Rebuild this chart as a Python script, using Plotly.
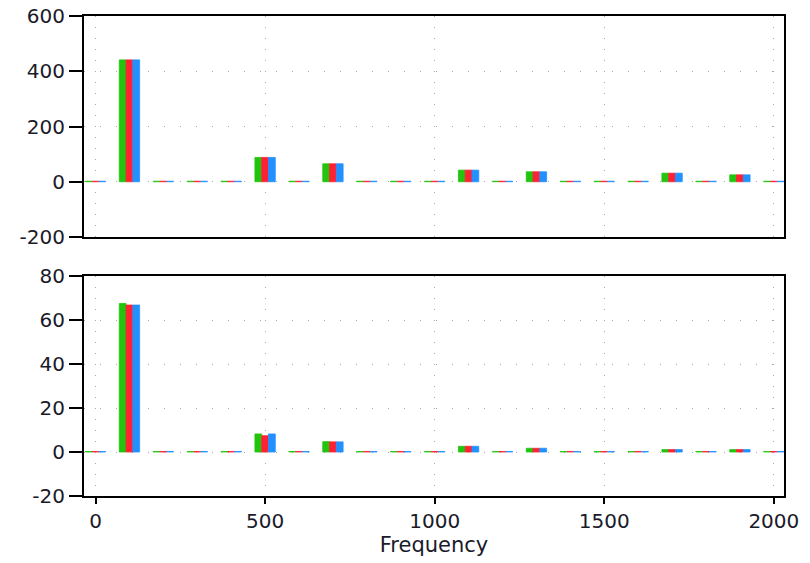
import plotly.graph_objects as go

freq = [0, 100, 200, 300, 400, 500, 600, 700, 800, 900, 1000,
        1100, 1200, 1300, 1400, 1500, 1600, 1700, 1800, 1900, 2000]

# Top panel (three channels)
top_green = [2, 441, 2, 2, 2, 88, 2, 65, 2, 2, 2, 42, 2, 36, 2, 2, 2, 31, 2, 25, 2]
top_red   = [2, 441, 2, 2, 2, 88, 2, 65, 2, 2, 2, 42, 2, 36, 2, 2, 2, 31, 2, 25, 2]
top_blue  = [2, 441, 2, 2, 2, 88, 2, 65, 2, 2, 2, 42, 2, 36, 2, 2, 2, 31, 2, 25, 2]

# Bottom panel (three channels)
bot_green = [0.25, 67.5, 0.25, 0.25, 0.25, 8.2, 0.25, 4.7, 0.25, 0.25, 0.25, 2.6, 0.25, 1.7, 0.25, 0.25, 0.25, 1.1, 0.25, 1.1, 0.25]
bot_red   = [0.25, 66.8, 0.25, 0.25, 0.25, 7.4, 0.25, 4.6, 0.25, 0.25, 0.25, 2.6, 0.25, 1.7, 0.25, 0.25, 0.25, 1.1, 0.25, 1.1, 0.25]
bot_blue  = [0.25, 66.8, 0.25, 0.25, 0.25, 8.2, 0.25, 4.6, 0.25, 0.25, 0.25, 2.6, 0.25, 1.7, 0.25, 0.25, 0.25, 1.1, 0.25, 1.1, 0.25]

x_ticks = [0, 500, 1000, 1500, 2000]
top_ticks = [-200, 0, 200, 400, 600]
bot_ticks = [-20, 0, 20, 40, 60, 80]

colors = ["#22c40e", "#ff2233", "#2290ff"]

fig = go.Figure()
for vals, c in zip([top_green, top_red, top_blue], colors):
    fig.add_trace(go.Bar(x=freq, y=vals, marker=dict(color=c, line=dict(color=c, width=0.8)),
                         xaxis="x", yaxis="y", showlegend=False))
for vals, c in zip([bot_green, bot_red, bot_blue], colors):
    fig.add_trace(go.Bar(x=freq, y=vals, marker=dict(color=c, line=dict(color=c, width=0.8)),
                         xaxis="x2", yaxis="y2", showlegend=False))

tickfont = dict(family="DejaVu Sans", size=20, color="#1a1a2a")
common_x = dict(range=[-34, 2030], tickvals=x_ticks, ticktext=[str(v) for v in x_ticks],
                showgrid=True, gridcolor="#a8a8a8", gridwidth=1, griddash="1px,10px",
                showline=True, linecolor="black", linewidth=2, mirror=True,
                zeroline=False, tickfont=tickfont, automargin=False,
                ticklabeloverflow="allow")
common_y = dict(showgrid=True, gridcolor="#a8a8a8", gridwidth=1, griddash="1px,15px",
                showline=True, linecolor="black", linewidth=2, mirror=True,
                zeroline=False, ticks="outside", ticklen=13, tickwidth=2, tickcolor="black",
                tickfont=tickfont, automargin=False, ticklabeloverflow="allow")

fig.update_layout(
    width=810, height=563,
    margin=dict(l=84, r=26, t=16, b=67),
    paper_bgcolor="white", plot_bgcolor="white",
    barmode="group", bargap=0.4, bargroupgap=0,
    xaxis=dict(**common_x, domain=[0, 1], anchor="y", showticklabels=False, ticks=""),
    yaxis=dict(**common_y, domain=[0.5396, 1], anchor="x", range=[-200, 600],
               tickvals=top_ticks, ticktext=[str(v) for v in top_ticks]),
    xaxis2=dict(**common_x, domain=[0, 1], anchor="y2", ticks="outside", ticklen=6,
                tickwidth=2, tickcolor="black",
                title=dict(text="Frequency", font=dict(family="DejaVu Sans", size=21, color="#1a1a2a"),
                           standoff=2)),
    yaxis2=dict(**common_y, domain=[0, 0.4583], anchor="x2", range=[-20, 80],
                tickvals=bot_ticks, ticktext=[str(v) for v in bot_ticks]),
)

fig.write_html("out.html",
               config={"displayModeBar": False},
               post_script="document.body.style.margin='0';document.body.style.overflow='hidden';")
